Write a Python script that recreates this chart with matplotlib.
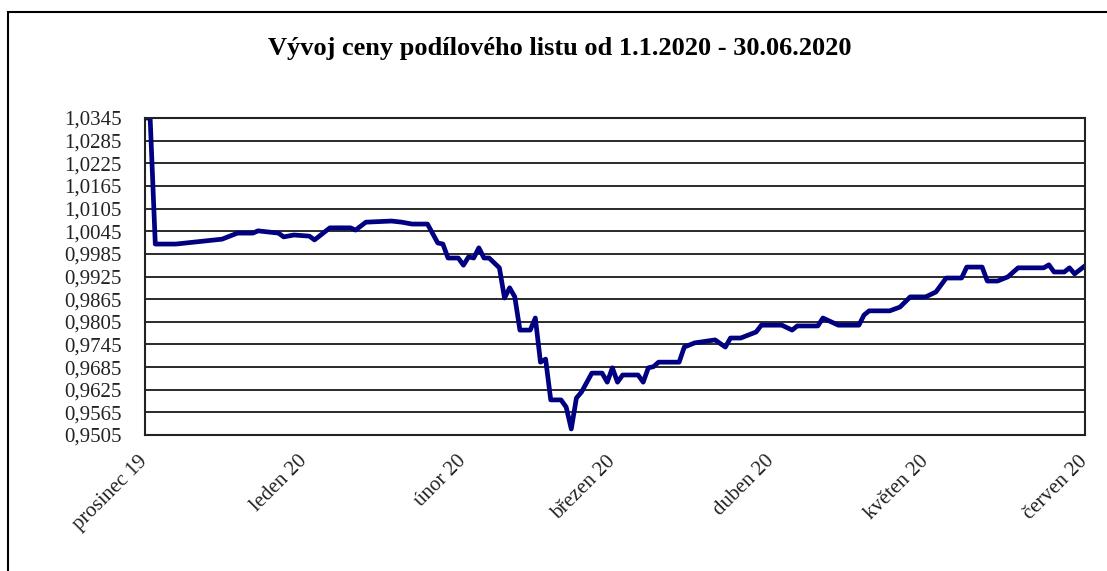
import numpy as np
import pandas as pd
import matplotlib
matplotlib.use("Agg")
import matplotlib.pyplot as plt
import matplotlib.dates as mdates
from matplotlib.ticker import FuncFormatter

# dny od 1.12.2019 a hodnota podiloveho listu
dny = [0, 1, 2, 6, 15, 18, 21, 22, 26, 27, 29, 32, 33, 36, 40, 41, 43, 48, 50, 52,
       55, 57, 58, 59, 61, 62, 63, 64, 65, 66, 67, 69, 70, 71, 72, 73, 75, 76, 77, 78,
       79, 81, 82, 83, 84, 85, 87, 89, 90, 91, 92, 93, 96, 97, 98, 99, 100, 104, 105, 107,
       111, 113, 114, 116, 119, 120, 124, 126, 127, 131, 132, 135, 139, 140, 141, 145, 147, 149, 152, 154,
       156, 159, 160, 163, 164, 166, 168, 170, 175, 176, 177, 179, 180, 181, 183]
hodnoty = [1.0345, 1.0345, 1.0011, 1.0011, 1.0024, 1.0040, 1.0040, 1.0046, 1.0040, 1.0030,
           1.0035, 1.0032, 1.0022, 1.0054, 1.0054, 1.0048, 1.0069, 1.0072, 1.0069, 1.0064,
           1.0064, 1.0014, 1.0011, 0.9974, 0.9974, 0.9955, 0.9977, 0.9974, 1.0001, 0.9974,
           0.9974, 0.9948, 0.9868, 0.9895, 0.9871, 0.9783, 0.9783, 0.9815, 0.9698, 0.9706,
           0.9598, 0.9598, 0.9579, 0.9521, 0.9603, 0.9619, 0.9669, 0.9669, 0.9645, 0.9683,
           0.9645, 0.9664, 0.9664, 0.9645, 0.9683, 0.9686, 0.9698, 0.9698, 0.9738, 0.9749,
           0.9757, 0.9738, 0.9762, 0.9762, 0.9778, 0.9796, 0.9796, 0.9783, 0.9794, 0.9794,
           0.9815, 0.9796, 0.9796, 0.9823, 0.9834, 0.9834, 0.9844, 0.9871, 0.9871, 0.9884,
           0.9921, 0.9921, 0.9950, 0.9950, 0.9913, 0.9913, 0.9924, 0.9948, 0.9948, 0.9956,
           0.9937, 0.9937, 0.9948, 0.9932, 0.9953]

mesice = ["2019-12-01", "2020-01-01", "2020-02-01", "2020-03-01",
          "2020-04-01", "2020-05-01", "2020-06-01"]
popisky = ["prosinec 19", "leden 20", "únor 20", "březen 20",
           "duben 20", "květen 20", "červen 20"]
y_ticks = [0.9505, 0.9565, 0.9625, 0.9685, 0.9745, 0.9805, 0.9865, 0.9925,
           0.9985, 1.0045, 1.0105, 1.0165, 1.0225, 1.0285, 1.0345]

datumy = pd.Timestamp("2019-12-01") + pd.to_timedelta(dny, unit="D")

plt.rcParams['font.family'] = ['Liberation Serif', 'DejaVu Serif']

fig = plt.figure(figsize=(11.07, 5.71), dpi=100)
ax = fig.add_axes([0.131, 0.2382, 0.849, 0.5551])

ax.plot(datumy, hodnoty, color="#000080", lw=3.4, solid_joinstyle="round")

ax.set_xlim(pd.Timestamp(mesice[0]), pd.Timestamp(mesice[-1]))
ax.set_ylim(y_ticks[0], y_ticks[-1])
ax.set_yticks(y_ticks)
ax.yaxis.set_major_formatter(FuncFormatter(lambda v, p: f"{v:.4f}".replace(".", ",")))
ax.grid(axis="y", color="#2a2a2a", lw=1.4)
ax.set_axisbelow(True)

ax.set_xticks(pd.to_datetime(mesice))
ax.set_xticklabels(popisky, rotation=45, ha="right", va="center", rotation_mode="anchor")
ax.tick_params(axis="x", length=0, pad=17, labelsize=15, colors="#222222")
ax.tick_params(axis="y", length=0, pad=17, labelsize=15, colors="#222222")

for s in ax.spines.values():
    s.set_color("#222222")
    s.set_linewidth(1.5)

fig.text(0.506, 0.915, "Vývoj ceny podílového listu od 1.1.2020 - 30.06.2020",
         ha="center", va="center", fontsize=19, fontweight="bold")

# ramecek kolem grafu
fig.patches.append(plt.Rectangle((0.0072, -0.5), 2, 1.479, transform=fig.transFigure,
                                 fill=False, lw=1.5, ec="black"))

fig.savefig("out.png", dpi=100)
